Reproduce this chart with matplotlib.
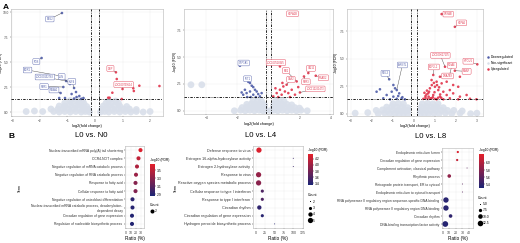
import matplotlib
matplotlib.use('Agg')
import matplotlib.pyplot as plt
from matplotlib.colors import LinearSegmentedColormap
from matplotlib.lines import Line2D

plt.rcParams['font.family'] = ['Liberation Sans', 'DejaVu Sans']

# ---------------- A: volcano data ----------------
# L0 vs. N0
down1 = [(-1.2, 9.9), (-1.94, 5.4), (-1.24, 3.6), (-1.05, 3.1), (-0.91, 2.8), (-1.15, 2.5),
         (-0.76, 2.4), (-0.69, 2.0), (-1.25, 1.9), (-0.85, 1.8), (-0.67, 1.5), (-0.57, 1.6),
         (-1.3, 1.4), (-1.09, 1.4), (-0.76, 1.35), (-0.42, 1.4), (-0.5, 1.32)]
up1 = [(0.76, 3.97), (0.79, 3.3), (1.0, 2.3), (1.39, 2.37), (1.41, 2.1), (1.61, 2.63),
       (2.34, 2.6), (0.63, 1.93), (0.48, 1.43), (0.97, 1.3), (0.53, 1.43)]
ns1 = [(-2.5, 0.05), (-2.2, 0.1), (-1.9, 0.05), (-1.5, 0.05), (-1.3, 0.0), (-1.1, 0.05),
       (-0.9, 0.0), (-0.7, 0.05), (-0.5, 0.0), (-0.35, 0.05), (-0.2, 0.0),
       (-1.6, 0.3), (-1.35, 0.3), (-1.15, 0.35), (-0.95, 0.3), (-0.75, 0.35), (-0.55, 0.3),
       (-0.4, 0.3), (-0.25, 0.25),
       (-1.3, 0.6), (-1.1, 0.6), (-0.9, 0.65), (-0.7, 0.6), (-0.5, 0.65), (-0.3, 0.55),
       (-1.1, 0.9), (-0.85, 0.95), (-0.6, 0.9), (-0.4, 0.85),
       (-0.9, 1.15), (-0.65, 1.2), (-0.45, 1.15),
       (0.2, 0.0), (0.35, 0.05), (0.5, 0.0), (0.7, 0.05), (0.9, 0.0), (1.1, 0.05),
       (1.3, 0.0), (1.5, 0.05), (1.75, 0.0), (2.0, 0.05),
       (0.25, 0.3), (0.45, 0.35), (0.65, 0.3), (0.85, 0.35), (1.05, 0.3), (1.25, 0.3), (1.5, 0.25),
       (0.3, 0.6), (0.5, 0.65), (0.7, 0.6), (0.9, 0.6), (1.15, 0.55),
       (0.4, 0.9), (0.6, 0.95), (0.85, 0.9),
       (0.5, 1.15), (0.75, 1.1)]
labels1 = ['BTG2', 'FOS', 'EGR1', 'LOC100152783', 'JUN', 'PER1', 'NR4A1', 'KLF4', 'DBP', 'LOC100739514']
label_pts1 = [(-1.2, 9.9), (-1.94, 5.4), (-1.24, 3.6), (-1.05, 3.1), (-0.91, 2.8), (-1.15, 2.5),
              (-1.25, 1.9), (-0.76, 2.4), (0.76, 3.97), (1.0, 2.3)]

# L0 vs. L4
down2 = [(-1.84, 4.2), (-1.3, 2.7), (-1.19, 2.59), (-1.08, 2.34), (-0.98, 2.21), (-0.87, 1.96),
         (-0.76, 1.8), (-1.19, 1.8), (-1.41, 1.65), (-1.63, 1.5), (-0.98, 1.5), (-0.66, 1.56),
         (-0.55, 1.34), (-1.52, 1.96), (-1.73, 1.71), (-0.81, 1.28), (-1.15, 1.28), (-1.37, 1.28),
         (-0.44, 1.65)]
up2 = [(1.5, 9.0), (0.74, 4.14), (2.57, 3.52), (3.05, 3.27), (2.29, 3.2), (2.46, 2.74),
       (0.74, 1.96), (0.96, 2.27), (1.17, 2.43), (0.53, 1.65), (0.31, 1.34), (0.85, 1.5),
       (1.06, 1.8), (1.28, 1.65), (1.5, 1.96), (1.71, 1.5), (1.39, 1.28), (0.63, 1.28),
       (1.82, 2.74), (1.92, 2.21), (2.03, 1.71), (1.6, 2.9), (0.45, 2.1), (0.9, 2.6)]
ns2 = [(-5.0, 2.43), (-4.3, 2.43),
       (-2.2, 0.0), (-1.8, 0.05), (-1.5, 0.0), (-1.2, 0.05), (-0.9, 0.0), (-0.6, 0.05),
       (-0.35, 0.0), (-0.15, 0.05),
       (-1.7, 0.3), (-1.4, 0.35), (-1.1, 0.3), (-0.8, 0.35), (-0.55, 0.3), (-0.3, 0.3),
       (-1.4, 0.6), (-1.1, 0.65), (-0.8, 0.6), (-0.5, 0.6), (-0.25, 0.55),
       (-1.0, 0.9), (-0.7, 0.95), (-0.45, 0.9),
       (0.15, 0.0), (0.35, 0.05), (0.6, 0.0), (0.9, 0.05), (1.2, 0.0), (1.5, 0.05),
       (1.8, 0.0), (2.1, 0.05), (2.5, 0.0),
       (0.3, 0.3), (0.55, 0.35), (0.8, 0.3), (1.1, 0.35), (1.4, 0.3), (1.7, 0.3), (2.0, 0.25),
       (0.35, 0.6), (0.6, 0.65), (0.9, 0.6), (1.2, 0.6), (1.5, 0.55),
       (0.45, 0.9), (0.7, 0.95), (1.0, 0.9)]
labels2 = ['CYP1A1', 'IFIT1', 'HSPA1B', 'LOC100518345', 'MX1', 'OAS2', 'ISG15', 'RSAD2',
           'PER3', 'LOC110261473']
label_pts2 = [(-1.84, 4.2), (-1.3, 2.7), (1.5, 9.0), (0.74, 4.14), (1.82, 2.74), (1.17, 2.43),
              (2.57, 3.52), (3.05, 3.27), (2.29, 3.2), (2.03, 1.71)]

# L0 vs. L8
down3 = [(-1.18, 3.13), (-0.98, 2.61), (-0.9, 2.31), (-0.82, 2.15), (-1.06, 2.0), (-1.62, 2.22),
         (-1.78, 2.0), (-1.3, 1.7), (-0.98, 1.55), (-0.75, 1.61), (-0.59, 1.4), (-1.46, 1.4),
         (-1.14, 1.31), (-0.43, 1.31), (-0.82, 1.36), (-0.7, 1.85), (-0.55, 1.5)]
up3 = [(1.32, 9.06), (1.95, 7.9), (1.48, 4.27), (3.02, 4.49), (1.95, 3.91), (2.19, 3.36),
       (1.71, 3.6), (1.24, 3.36), (0.92, 3.52), (0.84, 3.06), (1.08, 2.91), (1.32, 2.76),
       (1.56, 2.91), (1.87, 2.61), (2.11, 2.45), (1.0, 2.45), (0.76, 2.31), (1.16, 2.15),
       (1.4, 2.0), (1.71, 2.15), (0.68, 1.85), (0.92, 1.7), (1.24, 1.55), (1.56, 1.7),
       (1.87, 1.85), (2.19, 1.55), (2.51, 1.7), (0.84, 1.4), (1.08, 1.31), (1.4, 1.31),
       (1.71, 1.4), (2.11, 1.31), (2.67, 1.36), (2.98, 1.31), (0.45, 1.35), (0.55, 1.45),
       (0.65, 1.35), (0.55, 1.6), (0.7, 1.55), (0.5, 1.9), (0.62, 2.1), (0.85, 2.6),
       (0.95, 2.8), (1.1, 2.6), (1.2, 2.4), (0.78, 1.4), (0.9, 1.5), (1.0, 1.35),
       (1.15, 1.45), (0.6, 1.75), (0.72, 2.0), (0.98, 1.95), (1.3, 1.45), (1.25, 1.75)]
ns3 = [(-2.8, 0.05), (-2.2, 0.1), (-1.7, 0.0), (-1.4, 0.05), (-1.15, 0.0), (-0.9, 0.05),
       (-0.7, 0.0), (-0.5, 0.05), (-0.3, 0.0),
       (-1.8, 0.3), (-1.5, 0.35), (-1.25, 0.3), (-1.0, 0.35), (-0.75, 0.3), (-0.5, 0.3), (-0.3, 0.3),
       (-1.3, 0.6), (-1.05, 0.65), (-0.8, 0.6), (-0.55, 0.6), (-0.3, 0.55),
       (-1.0, 0.9), (-0.75, 0.95), (-0.5, 0.9),
       (0.3, 0.0), (0.5, 0.05), (0.7, 0.0), (0.95, 0.05), (1.2, 0.0), (1.5, 0.05),
       (1.8, 0.0), (2.2, 0.05), (2.7, 0.0), (3.0, 0.05),
       (0.3, 0.3), (0.55, 0.35), (0.8, 0.3), (1.05, 0.35), (1.3, 0.3), (1.6, 0.3), (1.9, 0.3), (2.3, 0.25),
       (0.35, 0.6), (0.6, 0.65), (0.85, 0.6), (1.1, 0.6), (1.4, 0.55),
       (0.4, 0.9), (0.65, 0.95), (0.9, 0.9), (1.15, 0.9)]
labels3 = ['CRYAB', 'HSPA5', 'LOC100627135', 'SDF2L1', 'PDIA4', 'HYOU1', 'MANF', 'DNAJB9',
           'ARNTL', 'NFIL3']
label_pts3 = [(1.32, 9.06), (1.95, 7.9), (1.48, 4.27), (0.92, 3.52), (1.71, 3.6), (3.02, 4.49),
              (1.95, 3.91), (1.24, 3.36), (-0.82, 2.15), (-1.18, 3.13)]
label_dir3 = ['up'] * 8 + ['down'] * 2

# ---------------- B: GO enrichment data ----------------
terms1 = ['Nuclear-transcribed mRNA poly(A) tail shortening', 'CCR4-NOT complex',
          'Negative regulation of mRNA catabolic process', 'Negative regulation of RNA catabolic process',
          'Response to fatty acid', 'Cellular response to fatty acid',
          'Negative regulation of osteoblast differentiation',
          'Nuclear-transcribed mRNA catabolic process, deadenylation-\ndependent decay',
          'Circadian regulation of gene expression', 'Regulation of nucleotide biosynthetic process']
ratio1 = [29, 25, 22, 20, 19, 19, 13, 13, 12, 12]
count1 = [2, 2, 2, 2, 2, 2, 2, 2, 2, 2]
fdr1 = [3.62, 3.52, 3.44, 3.36, 3.28, 3.26, 2.92, 2.9, 2.88, 2.88]

terms2 = ['Defense response to virus', 'Estrogen 16-alpha-hydroxylase activity',
          'Estrogen 2-hydroxylase activity', 'Response to virus',
          'Reactive oxygen species metabolic process', 'Cellular response to type I interferon',
          'Response to type I interferon', 'Circadian rhythm',
          'Circadian regulation of gene expression', 'Hydrogen peroxide biosynthetic process']
ratio2 = [8, 100, 100, 7, 7, 17, 17, 9, 17, 50]
count2 = [5, 2, 2, 5, 5, 3, 3, 4, 3, 2]
fdr2 = [4.3, 3.5, 3.5, 3.95, 3.9, 3.6, 3.6, 3.45, 3.42, 3.4]

terms3 = ['Endoplasmic reticulum lumen', 'Circadian regulation of gene expression',
          'Complement activation, classical pathway', 'Rhythmic process',
          'Retrograde protein transport, ER to cytosol', 'Endoplasmic reticulum to cytosol transport',
          'RNA polymerase II regulatory region sequence-specific DNA binding',
          'RNA polymerase II regulatory region DNA binding', 'Circadian rhythm',
          'DNA-binding transcription factor activity']
ratio3 = [23, 22, 37, 10, 30, 30, 5, 5, 12, 4]
count3 = [6, 6, 5, 8, 5, 5, 12, 12, 8, 13]
fdr3 = [6.2, 6.1, 5.6, 5.85, 5.6, 5.6, 5.36, 5.36, 5.4, 5.35]

BLUE = '#4e5ca8'
RED = '#e1344b'
GREY = '#d9dfea'
cmap = LinearSegmentedColormap.from_list('fdr', ['#1b2475', '#e4202a'])

fig = plt.figure(figsize=(5.2, 2.43), dpi=100)


def volcano(rect, down, up, ns, labels, label_pts, label_dirs, boxes, xlim, ylim,
            xticks, yticks, thr, ylab_x):
    ax = fig.add_axes(rect)
    for pts, col, s, z in [(ns, GREY, 24, 1), (down, BLUE, 3.5, 3), (up, RED, 3.5, 3)]:
        xs = [p[0] for p in pts]
        ys = [p[1] for p in pts]
        ax.scatter(xs, ys, s=s, c=col, edgecolors='none', alpha=0.9, zorder=z)
    ls = (0, (3, 1.5, 1, 1.5))
    ax.axhline(1.3, color='black', lw=0.6, ls=ls, zorder=4)
    ax.axvline(-thr, color='black', lw=0.6, ls=ls, zorder=4)
    ax.axvline(thr, color='black', lw=0.6, ls=ls, zorder=4)
    for name, pt, d, bx in zip(labels, label_pts, label_dirs, boxes):
        col = BLUE if d == 'down' else RED
        ax.annotate(name, xy=pt, xytext=bx, fontsize=1.8, color=col, ha='center', va='center',
                    bbox=dict(boxstyle='round,pad=0.35', fc='white', ec=col, lw=0.3),
                    arrowprops=dict(arrowstyle='-', lw=0.3, color='#444444', shrinkA=0, shrinkB=0.5),
                    zorder=5)
    ax.set_xlim(*xlim)
    ax.set_ylim(*ylim)
    ax.set_xticks(xticks)
    ax.set_yticks(yticks)
    ax.grid(True, color='#ececec', lw=0.3)
    ax.set_axisbelow(True)
    for sp in ax.spines.values():
        sp.set_color('#b5b5b5')
        sp.set_linewidth(0.4)
    ax.tick_params(labelsize=2.3, length=1, width=0.3, pad=0.8, colors='#444444')
    ax.set_xlabel('log2(fold change)', fontsize=2.8, labelpad=1)
    ax.set_ylabel('-log10 (FDR)', fontsize=2.5)
    ax.yaxis.set_label_coords(ylab_x, 0.5)
    return ax


volcano([0.0212, 0.5226, 0.2923, 0.4403], down1, up1, ns1, labels1, label_pts1,
        ['down'] * 8 + ['up'] * 2,
        [(-1.64, 9.3), (-2.13, 5.05), (-2.45, 4.2), (-1.82, 3.5), (-1.21, 3.55), (-1.85, 2.55),
         (-1.49, 2.2), (-0.84, 3.05), (0.56, 4.35), (1.04, 2.75)],
        (-3.05, 2.47), (-0.4, 10.3), [-3, -2, -1, 0, 1, 2], [0, 2.5, 5, 7.5, 10], 0.15, -0.05)

volcano([0.3538, 0.5309, 0.2865, 0.4321], down2, up2, ns2, labels2, label_pts2,
        ['down'] * 2 + ['up'] * 8,
        [(-1.6, 4.46), (-1.35, 2.99), (1.55, 9.05), (0.48, 4.5), (1.13, 3.75), (1.45, 2.93),
         (2.74, 3.95), (3.54, 3.08), (2.42, 2.71), (3.03, 2.04)],
        (-5.45, 4.16), (-0.3, 9.5), [-4, -2, 0, 2, 4], [0, 2.5, 5, 7.5], 0.16, -0.05)

volcano([0.6673, 0.5226, 0.2615, 0.4403], down3, up3, ns3, labels3, label_pts3, label_dir3,
        [(1.63, 9.06), (2.27, 8.26), (1.26, 5.31), (0.95, 4.25), (1.81, 4.4), (2.59, 4.77),
         (2.51, 3.85), (1.6, 3.43), (-0.55, 4.43), (-1.36, 3.67)],
        (-3.19, 3.29), (-0.21, 9.52), [-3, -2, -1, 0, 1, 2, 3], [0, 2.5, 5, 7.5], 0.15, -0.065)

vh = [Line2D([], [], ls='', marker='o', color=c, markersize=1.8, markeredgewidth=0)
      for c in (BLUE, GREY, RED)]
fig.legend(vh, ['Downregulated', 'Non-significant', 'Upregulated'], loc='upper left',
           bbox_to_anchor=(0.935, 0.775), frameon=False, fontsize=2.4, handletextpad=0.3,
           labelspacing=0.6, borderpad=0, borderaxespad=0, handlelength=1)


def dotplot(rect, terms, ratio, count, fdr, xlim, xticks, vlim, cticks, crect,
            size_par, leg_counts, leg_labels, leg_anchor, title, title_xy, fs):
    s0, c0, k = size_par
    sizes = [s0 + k * (c - c0) for c in count]
    ax = fig.add_axes(rect)
    y = list(range(len(terms)))
    sc = ax.scatter(ratio, y, s=sizes, c=fdr, cmap=cmap, vmin=vlim[0], vmax=vlim[1],
                    edgecolors='none', zorder=3)
    ax.set_yticks(y)
    ax.set_yticklabels(terms, fontsize=fs, color='#333333')
    ax.set_ylim(len(terms) - 0.5, -0.5)
    ax.set_xlim(*xlim)
    ax.set_xticks(xticks)
    ax.grid(True, color='#ececec', lw=0.3)
    ax.set_axisbelow(True)
    for sp in ax.spines.values():
        sp.set_color('#b5b5b5')
        sp.set_linewidth(0.4)
    ax.tick_params(axis='x', labelsize=2.6, length=1, width=0.3, pad=0.8, colors='#444444')
    ax.tick_params(axis='y', length=1, width=0.3, pad=0.8)
    ax.set_xlabel('Ratio (%)', fontsize=3.4, labelpad=1)
    cax = fig.add_axes(crect)
    cb = fig.colorbar(sc, cax=cax)
    cb.outline.set_visible(False)
    cb.set_ticks(cticks)
    cax.tick_params(labelsize=2.4, length=0.8, width=0.3, pad=0.6)
    cax.set_title('-log10 (FDR)', fontsize=2.4, loc='left', pad=2.5)
    hs = [Line2D([], [], ls='', marker='o', color='black', markeredgewidth=0,
                 markersize=max(s0 + k * (c - c0), 0.3) ** 0.5) for c in leg_counts]
    fig.legend(hs, leg_labels, title='Count', loc='upper left', bbox_to_anchor=leg_anchor,
               frameon=False, fontsize=2.4, title_fontsize=2.6, labelspacing=0.7,
               handletextpad=0.4, borderpad=0, borderaxespad=0, handlelength=1,
               alignment='left')
    fig.text(title_xy[0], title_xy[1], title, ha='center', va='center', fontsize=5.6)
    return ax


dotplot([0.2404, 0.0617, 0.0365, 0.3374], terms1, ratio1, count1, fdr1, (-2, 36),
        [0, 10, 20, 30], (2.85, 3.66), [2.9, 3.1, 3.3, 3.5], [0.2885, 0.1934, 0.0096, 0.1317],
        (8.5, 2, 0), [2], ['2'], (0.2885, 0.165), 'L0 vs. N0', (0.175, 0.444), 2.4)
fig.text(0.038, 0.226, 'Term', rotation=90, fontsize=2.6, ha='center', va='center')

dotplot([0.4865, 0.0617, 0.0962, 0.3374], terms2, ratio2, count2, fdr2, (-8, 126),
        [0, 25, 50, 75, 100, 125], (3.35, 4.35), [3.4, 3.6, 3.8, 4.0, 4.2],
        [0.5923, 0.2387, 0.0096, 0.1276], (0.5, 2, 4.6), [2, 3, 4, 5], ['2', '3', '4', '5'],
        (0.5923, 0.205), 'L0 vs. L4', (0.502, 0.444), 2.7)
fig.text(0.338, 0.226, 'Term', rotation=90, fontsize=2.6, ha='center', va='center')

dotplot([0.85, 0.0617, 0.0596, 0.3292], terms3, ratio3, count3, fdr3, (-1, 46),
        [0, 10, 20, 30, 40], (5.3, 6.25), [5.4, 5.6, 5.8, 6.0],
        [0.9212, 0.2263, 0.0096, 0.14], (0.5, 5, 2.07), [5, 7.5, 10, 12.5],
        ['5.0', '7.5', '10.0', '12.5'], (0.919, 0.195), 'L0 vs. L8', (0.829, 0.44), 2.4)

fig.text(0.006, 0.985, 'A', fontsize=6, fontweight='bold', va='top')
fig.text(0.017, 0.44, 'B', fontsize=6, fontweight='bold', va='center')

fig.savefig('out.png', dpi=100)
